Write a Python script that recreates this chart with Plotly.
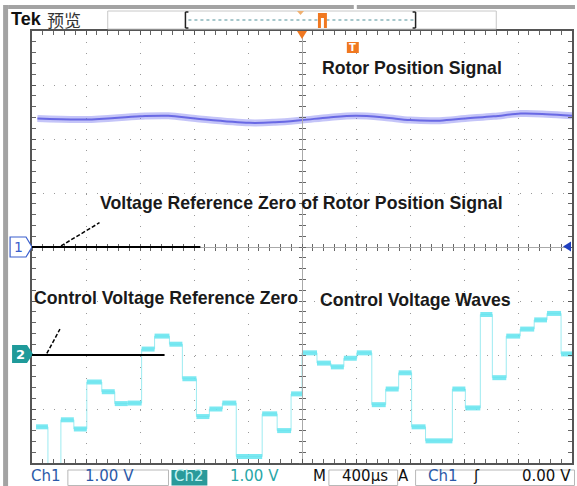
import plotly.graph_objects as go

# ---------------- data ----------------
# Channel 1 (rotor position signal), time in microseconds, volts (1 V/div)
CH1_T = [-1960, -1600, -1200, -990, -790, -390, -200, 0, 200, 400, 610, 800, 1020, 1210, 1420, 1620, 1810, 2000]
CH1_V = [2.38, 2.36, 2.42, 2.43, 2.38, 2.30, 2.31, 2.35, 2.40, 2.43, 2.40, 2.35, 2.34, 2.38, 2.42, 2.47, 2.46, 2.43]

# Channel 2 (control voltage staircase): step edges (us) and step levels (V)
CH2_EDGES = [-1970, -1882, -1786, -1690, -1594, -1483, -1387, -1291, -1188, -1092,
             -982, -886, -782, -686, -590, -487, -295, -184, -81, 0,
             111, 214, 310, 406, 517, 620, 716, 812, 915, 1114,
             1210, 1321, 1410, 1513, 1616, 1720, 1815, 1919, 2000]
CH2_V = [-1.33, -2.40, -1.20, -1.37, -0.50, -0.68, -0.90, -0.89, 0.11, 0.35,
         0.20, -0.44, -1.14, -1.00, -0.89, -1.88, -1.09, -1.40, -0.72, 0.04,
         -0.15, -0.22, -0.06, 0.04, -0.92, -0.63, -0.33, -1.33, -1.59, -0.63,
         -0.98, 0.75, -0.42, 0.35, 0.48, 0.65, 0.77, 0.02]
CH2_OFFSET = -2.0  # divisions (ch2 ground marker position)

CH1_REF_END = -753    # us, end of hand-drawn ch1 reference line
CH2_REF_END = -1018   # us, end of hand-drawn ch2 reference line

ANNOTATIONS = [
    ("Rotor Position Signal", 322, 68),
    ("Voltage Reference Zero of Rotor Position Signal", 99, 203),
    ("Control Voltage Reference Zero", 33, 298),
    ("Control Voltage Waves", 320, 300),
]

STATUS = [  # text, center x px, colour
    ("Ch1", 46, "#2c5aa8"),
    ("1.00 V", 110, "#2c5aa8"),
    ("Ch2", 190, "#c4f2f2"),
    ("1.00 V", 255, "#2aa7a7"),
    ("M", 321, "#111111"),
    ("400µs", 366, "#111111"),
    ("A", 405, "#111111"),
    ("Ch1", 445, "#2c5aa8"),
    ("ʃ", 478, "#111111"),
    ("0.00 V", 548, "#111111"),
]

# ---------------- geometry helpers ----------------
W, H = 577, 486
PL, PR, PT, PB = 32, 574, 31, 463


def fx(px):
    return (px - PL) / (PR - PL)


def fy(py):
    return (PB - py) / (PB - PT)


fig = go.Figure()

# ch2 transitions (thin)
tx = list(CH2_EDGES)
ty = [v + CH2_OFFSET for v in CH2_V] + [CH2_V[-1] + CH2_OFFSET]
fig.add_trace(go.Scatter(x=tx, y=ty, mode="lines", line=dict(shape="hv", width=1, color="rgba(140,232,238,0.85)"),
                         hoverinfo="skip", showlegend=False))
# ch2 step bars (thick)
bx, by = [], []
for i, v in enumerate(CH2_V):
    bx += [CH2_EDGES[i], CH2_EDGES[i + 1], None]
    by += [v + CH2_OFFSET, v + CH2_OFFSET, None]
fig.add_trace(go.Scatter(x=bx, y=by, mode="lines", line=dict(width=5, color="rgba(100,228,238,0.85)"),
                         hoverinfo="skip", showlegend=False))

# ch1 signal: noisy band + core
fig.add_trace(go.Scatter(x=CH1_T, y=CH1_V, mode="lines", line=dict(shape="spline", width=7, color="rgba(125,125,240,0.45)"),
                         hoverinfo="skip", showlegend=False))
fig.add_trace(go.Scatter(x=CH1_T, y=CH1_V, mode="lines", line=dict(shape="spline", width=2, color="rgba(95,95,225,0.9)"),
                         hoverinfo="skip", showlegend=False))

# dummy traces so the centre crosshair axes are drawn
for xa, ya in [("x2", "y"), ("x3", "y"), ("x", "y2"), ("x", "y3")]:
    fig.add_trace(go.Scatter(x=[None], y=[None], xaxis=xa, yaxis=ya, showlegend=False, hoverinfo="skip"))

DOT = "1px,9.84px"
common = dict(showticklabels=False, zeroline=False, fixedrange=True)
fig.update_layout(
    width=W, height=H,
    margin=dict(l=PL, r=W - PR, t=PT, b=H - PB),
    paper_bgcolor="white", plot_bgcolor="white",
    xaxis=dict(range=[-2000, 2000], dtick=400, tick0=0, showgrid=True, gridcolor="#9a9a9a", griddash=DOT,
               ticks="inside", ticklen=4, tickcolor="#555", showline=True, linecolor="#555", linewidth=1.5,
               mirror="allticks", minor=dict(dtick=80, ticks="inside", ticklen=3, tickcolor="#666", showgrid=False),
               **common),
    yaxis=dict(range=[-4, 4], dtick=1, tick0=0, showgrid=True, gridcolor="#9a9a9a", griddash=DOT,
               ticks="inside", ticklen=4, tickcolor="#555", showline=True, linecolor="#555", linewidth=1.5,
               mirror="allticks", minor=dict(dtick=0.2, ticks="inside", ticklen=3, tickcolor="#666", showgrid=False),
               **common),
    xaxis2=dict(overlaying="x", anchor="free", position=0.5, range=[-2000, 2000], dtick=80, tick0=0,
                showline=True, linecolor="#aaaaaa", linewidth=1, ticks="outside", ticklen=3, tickcolor="#666",
                showgrid=False, **common),
    xaxis3=dict(overlaying="x", anchor="free", position=0.5, range=[-2000, 2000], dtick=80, tick0=0,
                showline=False, ticks="inside", ticklen=3, tickcolor="#666", showgrid=False, **common),
    yaxis2=dict(overlaying="y", anchor="free", position=0.5, range=[-4, 4], dtick=0.2, tick0=0,
                showline=True, linecolor="#aaaaaa", linewidth=1, ticks="outside", ticklen=3, tickcolor="#666",
                showgrid=False, **common),
    yaxis3=dict(overlaying="y", anchor="free", position=0.5, range=[-4, 4], dtick=0.2, tick0=0,
                showline=False, ticks="inside", ticklen=3, tickcolor="#666", showgrid=False, **common),
)

shapes = []


def prect(x0, y0, x1, y1, fill=None, line=None, lw=1):
    shapes.append(dict(type="rect", xref="paper", yref="paper", x0=fx(x0), x1=fx(x1), y0=fy(y1), y1=fy(y0),
                       fillcolor=fill or "rgba(0,0,0,0)", line=dict(color=line or "rgba(0,0,0,0)", width=lw if line else 0),
                       layer="above"))


def ppath(pts, fill=None, line=None, lw=1):
    d = "M " + " L ".join(f"{fx(a):.5f},{fy(b):.5f}" for a, b in pts) + " Z"
    shapes.append(dict(type="path", xref="paper", yref="paper", path=d, fillcolor=fill or "rgba(0,0,0,0)",
                       line=dict(color=line or "rgba(0,0,0,0)", width=lw if line else 0), layer="above"))


def pline(x0, y0, x1, y1, color, w=1, dash="solid"):
    shapes.append(dict(type="line", xref="paper", yref="paper", x0=fx(x0), x1=fx(x1), y0=fy(y0), y1=fy(y1),
                       line=dict(color=color, width=w, dash=dash), layer="above"))


# window frame
prect(3, 5, 8, 486, fill="#a3a3a3")
prect(8, 5, 355, 9, fill="#a3a3a3")
prect(358, 5, 577, 9, fill="#a3a3a3")

# record view box
prect(108, 11, 498, 29, fill="white", line="#c8c8c8")
pline(189, 20, 415, 20, "#a8c8cc", 2, "dot")
pline(186, 12, 186, 28, "#222", 1.5)
pline(186, 12, 189, 12, "#222", 1.5)
pline(186, 28, 189, 28, "#222", 1.5)
pline(417, 12, 417, 28, "#222", 1.5)
pline(414, 12, 417, 12, "#222", 1.5)
pline(414, 28, 417, 28, "#222", 1.5)
ppath([(298, 11), (305, 11), (301.5, 15)], fill="#f0b070")
prect(319, 13, 328, 28, fill="#f07820")
prect(322, 18, 325, 28, fill="white")

# trigger position marker on top border
ppath([(298, 31), (308, 31), (303, 39)], fill="#f07820")
prect(348, 42, 360, 53, fill="#f07820")

# channel markers
ppath([(10, 237), (26, 237), (32, 247), (26, 257), (10, 257)], fill="white", line="#3a5fcd", lw=1.2)
ppath([(12, 345), (27, 345), (33, 354), (27, 363), (12, 363)], fill="#1f9a9a")
ppath([(565, 246.5), (573, 241.5), (573, 251.5)], fill="#2040c0")

# hand-drawn reference lines (data coordinates)
shapes.append(dict(type="line", xref="x", yref="y", x0=-2000, x1=CH1_REF_END, y0=0, y1=0,
                   line=dict(color="black", width=2), layer="above"))
shapes.append(dict(type="line", xref="x", yref="y", x0=-1785, x1=-1500, y0=0.02, y1=0.45,
                   line=dict(color="black", width=1.5, dash="4px,2px"), layer="above"))
shapes.append(dict(type="line", xref="x", yref="y", x0=-2000, x1=CH2_REF_END, y0=CH2_OFFSET, y1=CH2_OFFSET,
                   line=dict(color="black", width=2), layer="above"))
shapes.append(dict(type="line", xref="x", yref="y", x0=-1890, x1=-1793, y0=CH2_OFFSET + 0.03, y1=CH2_OFFSET + 0.48,
                   line=dict(color="black", width=1.5, dash="4px,2px"), layer="above"))

# status bar boxes
prect(68, 470, 169, 485.5, line="#b8b8b8")
prect(172, 470, 208, 485.5, fill="#2a9a9a")
prect(330, 470, 399, 485.5, line="#b8b8b8")
prect(417, 470, 576.5, 485.5, line="#b8b8b8")

fig.update_layout(shapes=shapes)

ann = []
for text, x, y in ANNOTATIONS:
    ann.append(dict(text="<b>" + text + "</b>", x=fx(x), y=fy(y), xref="paper", yref="paper", xanchor="left",
                    yanchor="middle", showarrow=False, borderpad=0,
                    font=dict(family="Liberation Sans", size=17.7, color="#1a1a1a")))
for text, x, c in STATUS:
    ann.append(dict(text=text, x=fx(x), y=fy(476), xref="paper", yref="paper", xanchor="center", yanchor="middle",
                    showarrow=False, borderpad=0, font=dict(family="DejaVu Sans", size=15, color=c)))
ann.append(dict(text="<b>Tek</b>", x=fx(9), y=fy(19), xref="paper", yref="paper", xanchor="left", yanchor="middle",
                showarrow=False, font=dict(family="Liberation Sans", size=18, color="#111")))
ann.append(dict(text="预览", x=fx(45), y=fy(19), xref="paper", yref="paper", xanchor="left", yanchor="middle",
                showarrow=False, font=dict(family="Noto Sans CJK SC", size=17, color="#333")))
ann.append(dict(text="<b>T</b>", x=fx(354), y=fy(47.5), xref="paper", yref="paper", xanchor="center", yanchor="middle",
                showarrow=False, font=dict(family="DejaVu Sans", size=10, color="white")))
ann.append(dict(text="1", x=fx(18), y=fy(247), xref="paper", yref="paper", xanchor="center", yanchor="middle",
                showarrow=False, font=dict(family="DejaVu Sans", size=14, color="#3a5fcd")))
ann.append(dict(text="<b>2</b>", x=fx(20), y=fy(354), xref="paper", yref="paper", xanchor="center", yanchor="middle",
                showarrow=False, font=dict(family="DejaVu Sans", size=13, color="white")))
fig.update_layout(annotations=ann)

fig.write_html("out.html")
